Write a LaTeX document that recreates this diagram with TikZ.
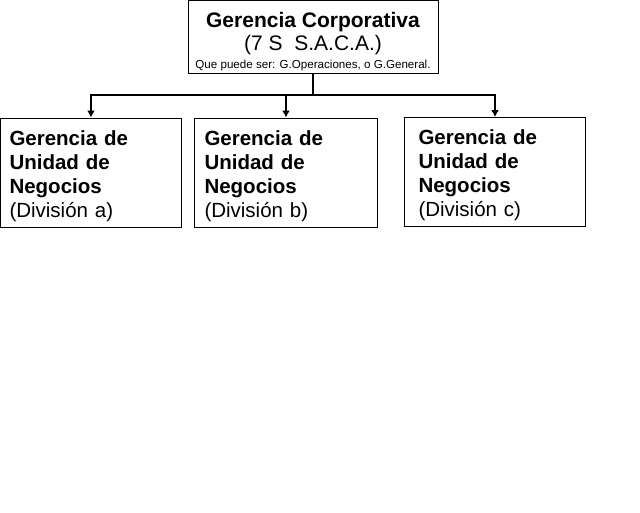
\documentclass[tikz,border=0pt]{standalone}
\usepackage{fontspec}
\setmainfont{Liberation Sans}
\usetikzlibrary{arrows.meta}
\newcommand{\unidad}[1]{\rule{0pt}{22pt}\textbf{Gerencia de\\Unidad de\\Negocios}\\(División #1)}

\begin{document}
\begin{tikzpicture}[x=1pt,y=-1pt,
    gbox/.style={draw,line width=1pt,rectangle,inner sep=0pt},
    ubox/.style={gbox,minimum width=181pt,minimum height=109pt,
      text width=163pt,align=left,font=\fontsize{20.5}{24}\selectfont},
    link/.style={line width=1.5pt},
    bajada/.style={link,-{Latex[length=7pt,width=8pt]}}]
  \useasboundingbox (0,0) rectangle (640,512);
  % gerencia corporativa
  \node[gbox,minimum width=250pt,minimum height=73pt,align=center,
    font=\fontsize{21}{23}\selectfont] (corp) at (313,36.5)
    {\rule{0pt}{25pt}\textbf{Gerencia Corporativa}\\
     (7 S\ \ S.A.C.A.)\\[-5pt]
     {\fontsize{11.6}{14}\selectfont Que puede ser: G.Operaciones, o G.General.}};
  % divisiones
  \node[ubox] (diva) at (91,172.5) {\unidad{a}};
  \node[ubox,minimum width=183pt] (divb) at (286,172.5) {\unidad{b}};
  \node[ubox,text width=153pt] (divc) at (495,172) {\unidad{c}};
  \coordinate (bus) at (313,95);
  \draw[link] (corp.south) -- (bus);
  \draw[bajada] (bus) -| (diva.north);
  \draw[bajada] (bus) -| (divb.north);
  \draw[bajada] (bus) -| (divc.north);
\end{tikzpicture}
\end{document}
